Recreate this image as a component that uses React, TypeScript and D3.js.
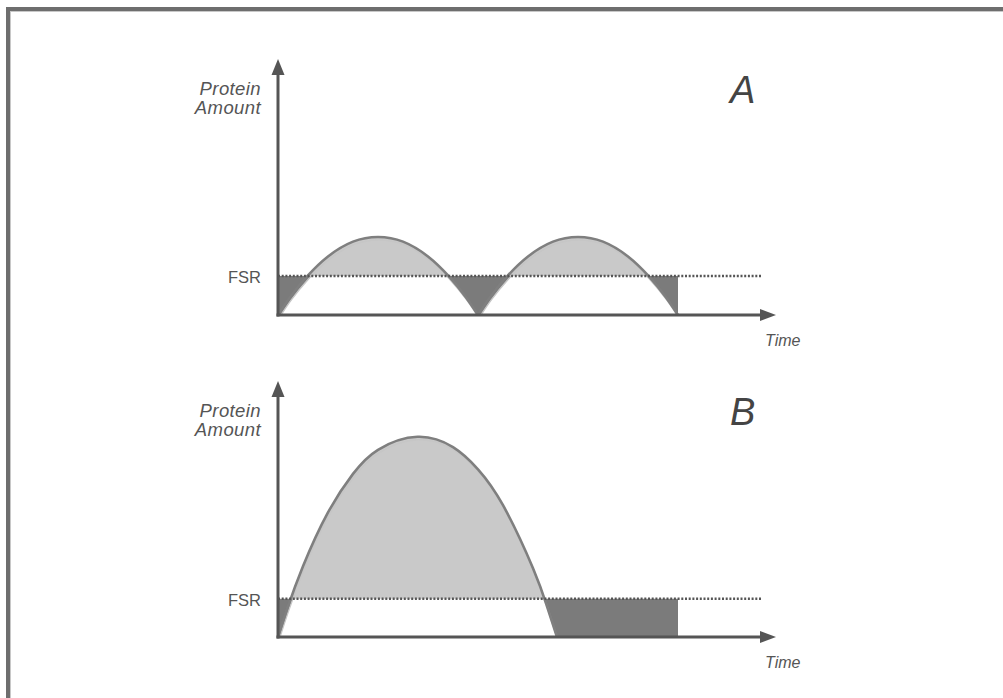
import React from "react";
import * as d3 from "d3";

// Fractional synthesis rate threshold (protein amount units) and extents along time
const fsrLevel = 1;
const fsrLineEnd = 9.68;
const deficitEnd = 8;

// Panel A: two moderate feedings
const humpA1Time = [0, 0.25, 0.59, 1, 1.5, 2, 2.5, 3, 3.41, 3.75, 4];
const humpA1Amount = [0, 0.47, 1, 1.5, 1.88, 2, 1.88, 1.5, 1, 0.47, 0];
const humpA2Time = [4, 4.25, 4.59, 5, 5.5, 6, 6.5, 7, 7.41, 7.75, 8];
const humpA2Amount = [0, 0.47, 1, 1.5, 1.88, 2, 1.88, 1.5, 1, 0.47, 0];

// Panel B: one large feeding
const humpBTime = [0, 0.18, 0.5, 1, 1.5, 2, 2.79, 3.5, 4, 4.5, 5.1, 5.38, 5.58];
const humpBAmount = [0, 0.72, 1.85, 3.26, 4.27, 4.9, 5.24, 4.97, 4.39, 3.45, 1.8, 0.8, 0];

const timeMax = 10;

type Pt = [number, number];
const zip = (t: number[], a: number[]): Pt[] => t.map((v, i) => [v, a[i]]);

const panels = [
  { id: "A", dy: 0, yMax: 6.56, humps: [zip(humpA1Time, humpA1Amount), zip(humpA2Time, humpA2Amount)] },
  { id: "B", dy: 322, yMax: 6.7, humps: [zip(humpBTime, humpBAmount)] },
];

const FONT = "'Liberation Sans', Arial, Helvetica, sans-serif";
const AXIS = "#555";
const CURVE = "#7f7f7f";
const LIGHT = "#c9c9c9";
const DARK = "#7b7b7b";

const X0 = 278;
const BASE = 315;
const TOP = 59;

function Panel({ id, dy, yMax, humps }: { id: string; dy: number; yMax: number; humps: Pt[][] }) {
  const x = d3.scaleLinear().domain([0, timeMax]).range([X0, X0 + 500]);
  const y = d3.scaleLinear().domain([0, yMax]).range([BASE, TOP]);
  const line = d3.line<Pt>().x((d) => x(d[0])).y((d) => y(d[1])).curve(d3.curveNatural);
  const area = d3
    .area<Pt>()
    .x((d) => x(d[0]))
    .y0(y(0))
    .y1((d) => y(d[1]))
    .curve(d3.curveNatural);
  const fy = y(fsrLevel);
  const clipAbove = `above-${id}`;
  const clipPlot = `plot-${id}`;

  return (
    <g transform={`translate(0,${dy})`}>
      <defs>
        <clipPath id={clipAbove}>
          <rect x={X0} y={0} width={520} height={fy} />
        </clipPath>
        <clipPath id={clipPlot}>
          <rect x={X0} y={0} width={520} height={y(0)} />
        </clipPath>
      </defs>

      {/* intake below FSR */}
      <rect x={x(0)} y={fy} width={x(deficitEnd) - x(0)} height={y(0) - fy} fill={DARK} />

      <g clipPath={`url(#${clipPlot})`}>
        {humps.map((h, i) => (
          <path key={`w${i}`} d={area(h) ?? ""} fill="#fff" transform="translate(1,3)" />
        ))}
      </g>

      {/* surplus above FSR */}
      <g clipPath={`url(#${clipAbove})`}>
        {humps.map((h, i) => (
          <path key={`l${i}`} d={area(h) ?? ""} fill={LIGHT} />
        ))}
      </g>

      <g clipPath={`url(#${clipPlot})`}>
        {humps.map((h, i) => (
          <path
            key={`s${i}`}
            d={line(h) ?? ""}
            fill="none"
            stroke="#c6c6c6"
            strokeWidth={1.5}
            transform="translate(1,3)"
          />
        ))}
      </g>
      {humps.map((h, i) => (
        <path key={`c${i}`} d={line(h) ?? ""} fill="none" stroke={CURVE} strokeWidth={2.6} />
      ))}

      {/* FSR reference line */}
      <line
        x1={x(0)}
        x2={x(fsrLineEnd)}
        y1={fy}
        y2={fy}
        stroke={AXIS}
        strokeWidth={2.5}
        strokeDasharray="2,1.7"
      />

      {/* axes */}
      <line x1={X0} x2={X0} y1={y(0) + 1.5} y2={TOP + 14} stroke={AXIS} strokeWidth={3} />
      <path d={`M${X0},${TOP} L${X0 - 6.5},${TOP + 16} L${X0 + 6.5},${TOP + 16} Z`} fill={AXIS} />
      <line x1={X0 - 1.5} x2={762} y1={y(0)} y2={y(0)} stroke={AXIS} strokeWidth={3} />
      <path d={`M776,${y(0)} L760,${y(0) - 6} L760,${y(0) + 6} Z`} fill={AXIS} />

      <g fontFamily={FONT} fill="#555">
        <text x={261} y={95} textAnchor="end" fontStyle="italic" fontSize={18.5} letterSpacing={0.4}>
          Protein
        </text>
        <text x={261} y={114} textAnchor="end" fontStyle="italic" fontSize={18.5} letterSpacing={0.4}>
          Amount
        </text>
        <text x={261} y={fy + 7.5} textAnchor="end" fontSize={16.5}>
          FSR
        </text>
        <text x={765} y={346} fontStyle="italic" fontSize={16}>
          Time
        </text>
        <text x={730} y={103} fontStyle="italic" fontSize={38} fill="#444">
          {id}
        </text>
      </g>
    </g>
  );
}

export default function App() {
  return (
    <div style={{ position: "fixed", left: 0, top: 0 }}>
      <svg width={1003} height={698} style={{ display: "block", background: "#fff" }}>
        <rect x={0} y={0} width={1003} height={698} fill="#fff" />
        {/* frame */}
        <rect x={6} y={7} width={997} height={4} fill="#6e6e6e" />
        <rect x={6} y={7} width={4} height={691} fill="#6e6e6e" />
        <rect x={10} y={11} width={993} height={1} fill="#c8c8c8" />
        <rect x={10} y={11} width={1} height={687} fill="#c8c8c8" />
        {panels.map((p) => (
          <Panel key={p.id} {...p} />
        ))}
      </svg>
    </div>
  );
}
